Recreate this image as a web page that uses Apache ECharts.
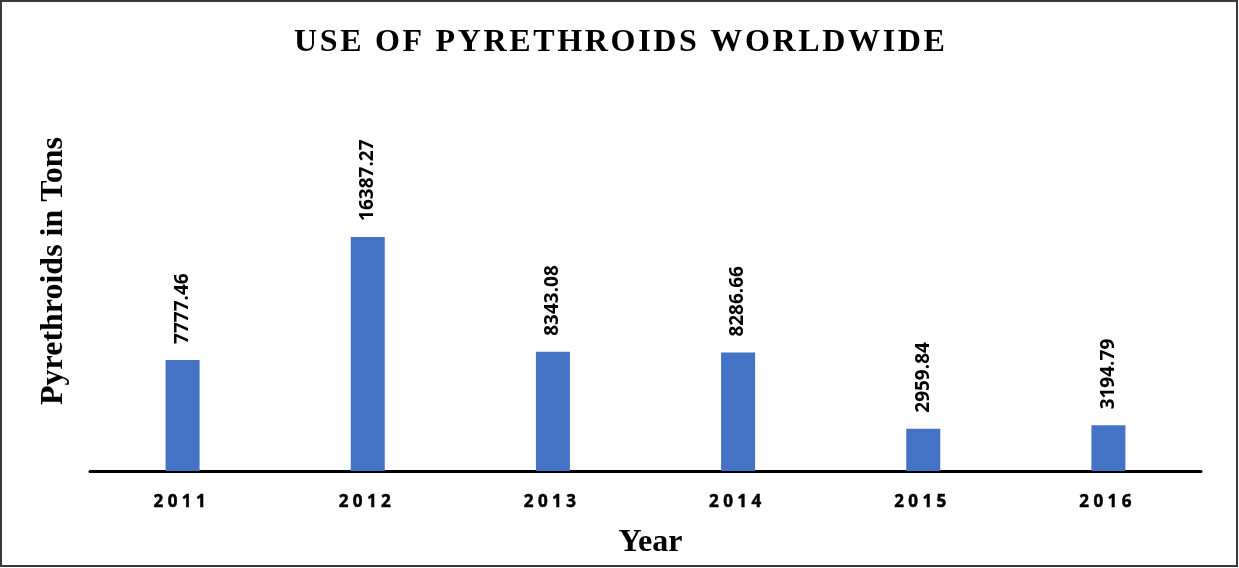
<!DOCTYPE html>
<html>
<head>
<meta charset="utf-8">
<script src="https://cdn.jsdelivr.net/npm/echarts@6/dist/echarts.min.js"></script>
<style>
  html, body { margin: 0; padding: 0; background: #fff; }
  #chart { width: 1239px; height: 568px; }
</style>
</head>
<body>
<div id="chart"></div>
<script>
// Pyrethroid use per year (tons)
const years = ['2011', '2012', '2013', '2014', '2015', '2016'];
const tons = [7777.46, 16387.27, 8343.08, 8286.66, 2959.84, 3194.79];

const titleText = 'USE OF PYRETHROIDS WORLDWIDE';
const xName = 'Year';
const yName = 'Pyrethroids in Tons';

// spread letters out with narrow spaces
const spaced = (s, sep) => s.split('').join(sep);

const serif = '"Liberation Serif", "Times New Roman", serif';
const sans = '"Open Sans", "Noto Sans", sans-serif';

const chart = echarts.init(document.getElementById('chart'));
chart.setOption({
  backgroundColor: '#ffffff',
  animation: false,
  title: {
    text: spaced(titleText, '\u200A'),
    left: 'center',
    top: 22,
    textStyle: {
      fontFamily: serif,
      fontWeight: 'bold',
      fontSize: 32,
      color: '#000'
    }
  },
  graphic: [{
    type: 'rect',
    shape: { x: 1, y: 1, width: 1236, height: 565 },
    style: { fill: 'none', stroke: '#3a3a3a', lineWidth: 2 },
    silent: true
  }],
  grid: { left: 90, right: 38, top: 71, bottom: 97 },
  xAxis: {
    type: 'category',
    data: years,
    name: xName,
    nameLocation: 'middle',
    nameGap: 56,
    nameTextStyle: {
      fontFamily: serif,
      fontWeight: 'bold',
      fontSize: 32,
      color: '#000',
      padding: [0, 0, 0, 10]
    },
    axisLine: { lineStyle: { color: '#000', width: 3 } },
    axisTick: { show: false },
    axisLabel: {
      margin: 23,
      fontFamily: sans,
      fontWeight: 'bold',
      fontSize: 17,
      color: '#000',
      textBorderColor: '#000',
      textBorderWidth: 0.5,
      padding: [0, 6, 0, 0],
      formatter: v => spaced(v, ' ')
    }
  },
  yAxis: {
    type: 'value',
    min: 0,
    max: 28000,
    name: yName,
    nameLocation: 'middle',
    nameGap: 20,
    nameTextStyle: {
      fontFamily: serif,
      fontWeight: 'bold',
      fontSize: 32,
      color: '#000'
    },
    axisLine: { show: false },
    axisTick: { show: false },
    axisLabel: { show: false },
    splitLine: { show: false }
  },
  series: [{
    type: 'bar',
    data: tons,
    barWidth: 34,
    itemStyle: { color: '#4472C4' },
    label: {
      show: true,
      position: 'top',
      distance: 16,
      rotate: 90,
      align: 'left',
      verticalAlign: 'middle',
      fontFamily: sans,
      fontWeight: 'bold',
      fontSize: 19,
      color: '#000',
      formatter: p => p.value.toFixed(2)
    }
  }]
});
</script>
</body>
</html>
